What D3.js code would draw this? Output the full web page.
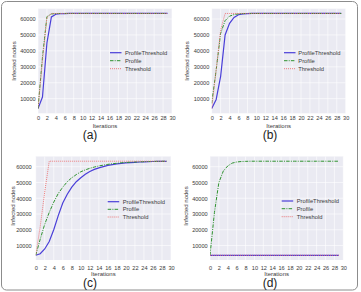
<!DOCTYPE html>
<html><head><meta charset="utf-8">
<script src="https://cdn.jsdelivr.net/npm/d3@7"></script>
<style>body{margin:0;background:#fff}svg{display:block}</style>
</head><body>
<svg id="chart" width="361" height="292"></svg>
<script>
// ---------- data ----------
const iterations = [0,1,2,3,4,5,6,7,8,9,10,11,12,13,14,15,16,17,18,19,20,21,22,23,24,25,26,27,28,29];
const xTicks = [0,2,4,6,8,10,12,14,16,18,20,22,24,26,28,30];
const yTicks = [10000,20000,30000,40000,50000,60000];
const seriesNames = ["ProfileThreshold","Profile","Threshold"];
const panelLabels = ["(a)","(b)","(c)","(d)"];
const axisXLabel = "Iterations";
const axisYLabel = "Infected nodes";

const aProfileThreshold = [3800,11000,45000,61300,63000,63300,63400,63500,63500,63500,63500,63500,63500,63500,63500,63500,63500,63500,63500,63500,63500,63500,63500,63500,63500,63500,63500,63500,63500,63500];
const aProfile          = [3800,36000,61500,63200,63400,63500,63500,63500,63500,63500,63500,63500,63500,63500,63500,63500,63500,63500,63500,63500,63500,63500,63500,63500,63500,63500,63500,63500,63500,63500];
const aThreshold        = [3800,34000,61000,63500,63500,63500,63500,63500,63500,63500,63500,63500,63500,63500,63500,63500,63500,63500,63500,63500,63500,63500,63500,63500,63500,63500,63500,63500,63500,63500];

const bProfileThreshold = [3800,9500,24000,50000,57300,61000,62700,63200,63400,63500,63500,63500,63500,63500,63500,63500,63500,63500,63500,63500,63500,63500,63500,63500,63500,63500,63500,63500,63500,63500];
const bProfile          = [7000,28000,51000,59000,61800,62800,63200,63400,63500,63500,63500,63500,63500,63500,63500,63500,63500,63500,63500,63500,63500,63500,63500,63500,63500,63500,63500,63500,63500,63500];
const bThreshold        = [3800,28000,53000,63500,63500,63500,63500,63500,63500,63500,63500,63500,63500,63500,63500,63500,63500,63500,63500,63500,63500,63500,63500,63500,63500,63500,63500,63500,63500,63500];

const cProfileThreshold = [3800,4800,7800,12500,20000,29000,37000,42500,47000,50500,53000,55200,57000,58300,59300,60100,60800,61300,61800,62100,62400,62600,62800,63000,63100,63200,63300,63350,63400,63450];
const cProfile          = [3800,14000,23500,31000,37500,43000,47000,50500,53000,55000,56800,58000,59000,59800,60500,61000,61500,61900,62200,62500,62700,62900,63000,63100,63200,63300,63350,63400,63450,63500];
const cThreshold        = [3800,22000,44000,63500,63500,63500,63500,63500,63500,63500,63500,63500,63500,63500,63500,63500,63500,63500,63500,63500,63500,63500,63500,63500,63500,63500,63500,63500,63500,63500];

const dProfileThreshold = [3800,3800,3800,3800,3800,3800,3800,3800,3800,3800,3800,3800,3800,3800,3800,3800,3800,3800,3800,3800,3800,3800,3800,3800,3800,3800,3800,3800,3800,3800];
const dProfile          = [3800,31000,50000,57300,60500,62300,63000,63300,63400,63500,63500,63500,63500,63500,63500,63500,63500,63500,63500,63500,63500,63500,63500,63500,63500,63500,63500,63500,63500,63500];
const dThreshold        = [3800,3800,3800,3800,3800,3800,3800,3800,3800,3800,3800,3800,3800,3800,3800,3800,3800,3800,3800,3800,3800,3800,3800,3800,3800,3800,3800,3800,3800,3800];

const panelData = [
  [aProfileThreshold, aProfile, aThreshold],
  [bProfileThreshold, bProfile, bThreshold],
  [cProfileThreshold, cProfile, cThreshold],
  [dProfileThreshold, dProfile, dThreshold]
];

// ---------- layout & style ----------
const layout = [
  {left:38,   right:172,   top:8.7,   bottom:113.3, xtickY:118.3, xlabY:126,   capX:90,  capY:135,   ylabX:14,    ylabY:61,  ytickGap:2.3, legLine:110,   legText:125,   legY:[52.7,60.7,68.7]},
  {left:211.7,right:345.7, top:8.7,   bottom:113.3, xtickY:118.3, xlabY:126,   capX:270, capY:135,   ylabX:187.3, ylabY:61,  ytickGap:2.4, legLine:284,   legText:298.3, legY:[52.7,60.7,68.7]},
  {left:35.7, right:171,   top:156.5, bottom:260,   xtickY:267.7, xlabY:273.7, capX:90,  capY:282.7, ylabX:12.7,  ylabY:206, ytickGap:4,   legLine:107.7, legText:122.7, legY:[201.7,209.3,217]},
  {left:210,  right:343.3, top:156.5, bottom:260,   xtickY:267.7, xlabY:273.7, capX:270, capY:282.7, ylabX:185.7, ylabY:206, ytickGap:2.3, legLine:281.7, legText:296.7, legY:[201,208.7,216.7]}
];
const styles = [
  {color:"#4a3fd8", width:1.2, dash:null},
  {color:"#2f922f", width:1.0, dash:"3.5,1.2,1,1.2"},
  {color:"#ec6f6f", width:0.9, dash:"1,1"}
];
const FONT = "'Liberation Sans', Arial, sans-serif";
const tickColor = "#3a3a3a";

const svg = d3.select("#chart");
svg.append("rect").attr("x",1.5).attr("y",1.5).attr("width",356).attr("height",288.5)
  .attr("rx",5).attr("fill","none").attr("stroke","#8c8c8c").attr("stroke-width",1);

layout.forEach((p,i)=>{
  const g = svg.append("g");
  const x = d3.scaleLinear().domain([0,30]).range([p.left,p.right]);
  const y = d3.scaleLinear().domain([815,66485]).range([p.bottom,p.top]);

  g.append("rect").attr("x",p.left).attr("y",p.top)
    .attr("width",p.right-p.left).attr("height",p.bottom-p.top).attr("fill","#eaeaf2");

  g.selectAll(".gx").data(xTicks).join("line")
    .attr("x1",d=>x(d)).attr("x2",d=>x(d)).attr("y1",p.top).attr("y2",p.bottom)
    .attr("stroke","#fff").attr("stroke-width",0.6);
  g.selectAll(".gy").data(yTicks).join("line")
    .attr("y1",d=>y(d)).attr("y2",d=>y(d)).attr("x1",p.left).attr("x2",p.right)
    .attr("stroke","#fff").attr("stroke-width",0.6);

  // x axis
  const ax = g.append("g").attr("transform",`translate(0,${p.xtickY})`)
    .call(d3.axisBottom(x).tickValues(xTicks).tickSize(0).tickPadding(0).tickFormat(d3.format("d")));
  ax.select(".domain").remove();
  ax.selectAll("text").attr("dy","0.35em").attr("y",0)
    .attr("font-family",FONT).attr("font-size",5.6).attr("fill",tickColor);

  // y axis
  const ay = g.append("g").attr("transform",`translate(${p.left-p.ytickGap},0)`)
    .call(d3.axisLeft(y).tickValues(yTicks).tickSize(0).tickPadding(0).tickFormat(d3.format("d")));
  ay.select(".domain").remove();
  ay.selectAll("text").attr("font-family",FONT).attr("font-size",5.6).attr("fill",tickColor);

  g.append("text").attr("x",(p.left+p.right)/2).attr("y",p.xlabY).attr("dy","0.35em")
    .attr("text-anchor","middle").attr("font-family",FONT).attr("font-size",6).attr("fill",tickColor)
    .text(axisXLabel);
  g.append("text").attr("transform",`translate(${p.ylabX},${p.ylabY}) rotate(-90)`).attr("dy","0.35em")
    .attr("text-anchor","middle").attr("font-family",FONT).attr("font-size",6).attr("fill",tickColor)
    .text(axisYLabel);
  g.append("text").attr("x",p.capX).attr("y",p.capY).attr("dy","0.35em")
    .attr("text-anchor","middle").attr("font-family",FONT).attr("font-size",12).attr("fill","#222")
    .text(panelLabels[i]);

  const line = d3.line().x((d,k)=>x(iterations[k])).y(d=>y(d));
  const clipId = "clip"+i;
  g.append("clipPath").attr("id",clipId).append("rect")
    .attr("x",p.left).attr("y",p.top).attr("width",p.right-p.left).attr("height",p.bottom-p.top);
  const lg = g.append("g").attr("clip-path",`url(#${clipId})`);
  // draw order: ProfileThreshold, Profile, Threshold
  panelData[i].forEach((vals,s)=>{
    lg.append("path").datum(vals).attr("d",line).attr("fill","none")
      .attr("stroke",styles[s].color).attr("stroke-width",styles[s].width)
      .attr("stroke-dasharray",styles[s].dash);
  });

  // legend
  seriesNames.forEach((nm,s)=>{
    g.append("line").attr("x1",p.legLine).attr("x2",p.legLine+11.5)
      .attr("y1",p.legY[s]).attr("y2",p.legY[s])
      .attr("stroke",styles[s].color).attr("stroke-width",styles[s].width)
      .attr("stroke-dasharray",styles[s].dash);
    g.append("text").attr("x",p.legText).attr("y",p.legY[s]).attr("dy","0.35em")
      .attr("font-family",FONT).attr("font-size",5.8).attr("fill",tickColor).text(nm);
  });
});
</script>
</body></html>
